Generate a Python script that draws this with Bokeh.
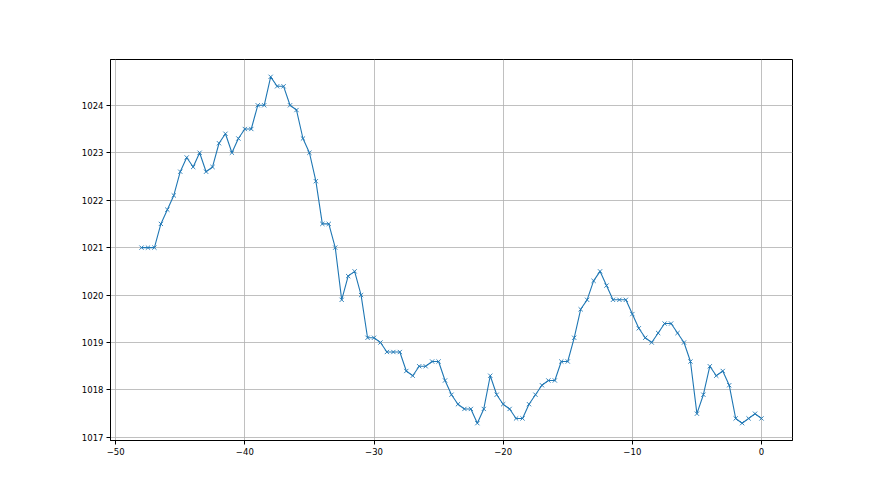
import numpy as np
from bokeh.plotting import figure
from bokeh.models import FixedTicker, Range1d
from bokeh.embed import file_html
from bokeh.resources import INLINE

# time offsets (hours) and pressure values
x_vals = [i * 0.5 for i in range(-96, 1)]
pressure = [
    1021.0, 1021.0, 1021.0, 1021.5, 1021.8, 1022.1, 1022.6, 1022.9, 1022.7, 1023.0,
    1022.6, 1022.7, 1023.2, 1023.4, 1023.0, 1023.3, 1023.5, 1023.5, 1024.0, 1024.0,
    1024.6, 1024.4, 1024.4, 1024.0, 1023.9, 1023.3, 1023.0, 1022.4, 1021.5, 1021.5,
    1021.0, 1019.9, 1020.4, 1020.5, 1020.0, 1019.1, 1019.1, 1019.0, 1018.8, 1018.8,
    1018.8, 1018.4, 1018.3, 1018.5, 1018.5, 1018.6, 1018.6, 1018.2, 1017.9, 1017.7,
    1017.6, 1017.6, 1017.3, 1017.6, 1018.3, 1017.9, 1017.7, 1017.6, 1017.4, 1017.4,
    1017.7, 1017.9, 1018.1, 1018.2, 1018.2, 1018.6, 1018.6, 1019.1, 1019.7, 1019.9,
    1020.3, 1020.5, 1020.2, 1019.9, 1019.9, 1019.9, 1019.6, 1019.3, 1019.1, 1019.0,
    1019.2, 1019.4, 1019.4, 1019.2, 1019.0, 1018.6, 1017.5, 1017.9, 1018.5, 1018.3,
    1018.4, 1018.1, 1017.4, 1017.3, 1017.4, 1017.5, 1017.4,
]
x_ticks = [-50, -40, -30, -20, -10, 0]
y_ticks = [1017, 1018, 1019, 1020, 1021, 1022, 1023, 1024]

p = figure(
    output_backend="svg", toolbar_location=None,
    frame_width=682, frame_height=381,
    min_border_left=110, min_border_top=59, min_border_right=50, min_border_bottom=40,
    x_range=Range1d(-50.4, 2.4), y_range=Range1d(1016.935, 1024.965),
)
p.background_fill_color = "white"
p.border_fill_color = "white"
p.outline_line_color = "black"
p.outline_line_width = 1

color = "#1f77b4"
p.line(x_vals, pressure, line_color=color, line_width=1.1)
p.scatter(x_vals, pressure, marker="x", size=6, line_color=color, line_width=0.9)

for ax in (p.xaxis[0], p.yaxis[0]):
    ax.minor_tick_line_color = None
    ax.major_tick_out = 4
    ax.major_tick_in = 0
    ax.axis_line_color = "black"
    ax.major_tick_line_color = "black"
    ax.major_label_text_font = "DejaVu Sans"
    ax.major_label_text_font_size = "8.5px"
    ax.major_label_text_color = "black"
    ax.major_label_standoff = 3

p.xaxis[0].ticker = FixedTicker(ticks=x_ticks)
p.yaxis[0].ticker = FixedTicker(ticks=y_ticks)
p.xaxis[0].major_label_overrides = {t: ("\u2212" + str(-t) if t < 0 else str(t)) for t in x_ticks}

p.xgrid.grid_line_color = "#b0b0b0"
p.ygrid.grid_line_color = "#b0b0b0"
p.xgrid.grid_line_width = 0.8
p.ygrid.grid_line_width = 0.8

open("out.html", "w").write(file_html(p, INLINE))
